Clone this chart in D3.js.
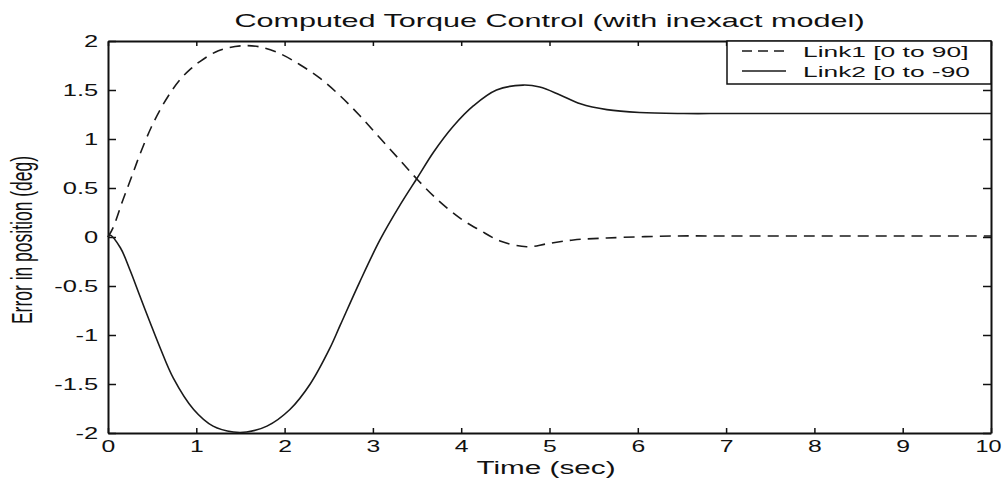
<!DOCTYPE html>
<html>
<head>
<meta charset="utf-8">
<script src="https://cdn.jsdelivr.net/npm/d3@7.9.0/dist/d3.min.js"></script>
<style>
  html, body { margin: 0; padding: 0; background: #fff; }
  svg { display: block; font-family: "Liberation Sans", Arial, sans-serif; }
</style>
</head>
<body>
<div id="chart"></div>
<script>
// values (time in sec, error in deg)
const link1Time = [0, 0.06, 0.17, 0.27, 0.36, 0.49, 0.61, 0.72, 0.82, 0.93, 1.04, 1.25, 1.5, 1.72, 1.95, 2.17, 2.4, 2.63, 2.85, 3.08, 3.31, 3.5, 3.72, 3.99, 4.21, 4.44, 4.74, 4.97, 5.27, 5.65, 6.4, 7, 8, 9, 10];
const link1Err  = [0, 0.1, 0.38, 0.62, 0.84, 1.12, 1.33, 1.49, 1.61, 1.71, 1.79, 1.9, 1.95, 1.94, 1.87, 1.76, 1.62, 1.44, 1.24, 1.01, 0.78, 0.59, 0.39, 0.19, 0.07, -0.04, -0.1, -0.07, -0.03, -0.01, 0.01, 0.01, 0.01, 0.01, 0.01];

const link2Time = [0, 0.02, 0.14, 0.25, 0.36, 0.48, 0.59, 0.74, 0.97, 1.19, 1.42, 1.57, 1.8, 2.06, 2.29, 2.51, 2.63, 2.85, 3.08, 3.31, 3.5, 3.69, 3.91, 4.14, 4.4, 4.7, 4.89, 5.12, 5.35, 5.65, 6.02, 6.52, 7, 8, 9, 10];
const link2Err  = [0, 0.02, -0.11, -0.34, -0.6, -0.88, -1.13, -1.44, -1.76, -1.93, -1.99, -1.99, -1.93, -1.76, -1.5, -1.14, -0.9, -0.46, -0.03, 0.33, 0.6, 0.87, 1.13, 1.34, 1.5, 1.55, 1.53, 1.45, 1.36, 1.3, 1.27, 1.26, 1.26, 1.26, 1.26, 1.26];

const xTicks = [0, 1, 2, 3, 4, 5, 6, 7, 8, 9, 10];
const yTicks = [-2, -1.5, -1, -0.5, 0, 0.5, 1, 1.5, 2];
const legendLabels = ['Link1 [0 to 90]', 'Link2 [0 to -90'];

const width = 1004;
const height = 480;
const margin = { top: 41, right: 13, bottom: 47, left: 108 };
const stretch = 1.5; // picture is stretched sideways

const svg = d3.select('#chart')
  .append('svg')
  .attr('width', width)
  .attr('height', height);

const x = d3.scaleLinear().domain([0, 10]).range([margin.left, width - margin.right]);
const y = d3.scaleLinear().domain([-2, 2]).range([height - margin.bottom, margin.top]);

// tick marks point inward, like the original
const fmt = d => String(d);

const xAxis = svg.append('g')
  .attr('transform', `translate(0,${y(-2)})`)
  .call(d3.axisBottom(x).tickValues(xTicks).tickFormat(fmt).tickSizeInner(-5).tickSizeOuter(0).tickPadding(7));
xAxis.selectAll('text')
  .attr('font-size', 16.5)
  .attr('fill', '#111')
  .attr('transform', d => d === 10 ? `translate(-3,0) scale(1.42,1)` : `scale(${stretch},1)`);

const yAxis = svg.append('g')
  .attr('transform', `translate(${x(0)},0)`)
  .call(d3.axisLeft(y).tickValues(yTicks).tickFormat(fmt).tickSizeInner(-8).tickSizeOuter(0).tickPadding(6.5));
yAxis.selectAll('text')
  .attr('font-size', 17)
  .attr('fill', '#111')
  .attr('transform', `scale(${stretch},1)`);

svg.append('g')
  .attr('transform', `translate(0,${y(2)})`)
  .call(d3.axisTop(x).tickValues(xTicks).tickFormat('').tickSizeInner(-5).tickSizeOuter(0));

svg.append('g')
  .attr('transform', `translate(${x(10)},0)`)
  .call(d3.axisRight(y).tickValues(yTicks).tickFormat('').tickSizeInner(-8).tickSizeOuter(0));

svg.selectAll('.domain').attr('stroke', '#111').attr('stroke-width', 2);
svg.selectAll('.tick line').attr('stroke', '#111').attr('stroke-width', 1.5);

// curves
const line = d3.line()
  .x(d => x(d[0]))
  .y(d => y(d[1]))
  .curve(d3.curveCatmullRom.alpha(0.5));

const link1 = d3.zip(link1Time, link1Err);
const link2 = d3.zip(link2Time, link2Err);

svg.append('path')
  .datum(link1)
  .attr('d', line)
  .attr('fill', 'none')
  .attr('stroke', '#1a1a1a')
  .attr('stroke-width', 1.6)
  .attr('stroke-dasharray', '11,7');

svg.append('path')
  .datum(link2)
  .attr('d', line)
  .attr('fill', 'none')
  .attr('stroke', '#1a1a1a')
  .attr('stroke-width', 1.6);

// legend
const legend = svg.append('g');
legend.append('rect')
  .attr('x', 727)
  .attr('y', y(2))
  .attr('width', x(10) - 727)
  .attr('height', 43)
  .attr('fill', '#fff')
  .attr('stroke', '#111')
  .attr('stroke-width', 1.5);

const rows = [
  { label: legendLabels[0], dash: '10,6', ty: 51 },
  { label: legendLabels[1], dash: null, ty: 71 }
];
rows.forEach(r => {
  legend.append('line')
    .attr('x1', 742).attr('x2', 786)
    .attr('y1', r.ty).attr('y2', r.ty)
    .attr('stroke', '#1a1a1a')
    .attr('stroke-width', 1.6)
    .attr('stroke-dasharray', r.dash);
  legend.append('text')
    .attr('transform', `translate(803,${r.ty + 5.5}) scale(1.7,1)`)
    .attr('font-size', 15.5)
    .attr('fill', '#111')
    .text(r.label);
});

// title and axis labels
svg.append('text')
  .attr('transform', `translate(${(x(0) + x(10)) / 2},27) scale(1.7,1)`)
  .attr('text-anchor', 'middle')
  .attr('font-size', 18)
  .attr('fill', '#111')
  .text('Computed Torque Control (with inexact model)');

svg.append('text')
  .attr('transform', `translate(546,474) scale(1.65,1)`)
  .attr('text-anchor', 'middle')
  .attr('font-size', 18)
  .attr('fill', '#111')
  .text('Time (sec)');

svg.append('text')
  .attr('transform', `translate(32,240) rotate(-90) scale(1,1.7)`)
  .attr('text-anchor', 'middle')
  .attr('font-size', 17.5)
  .attr('fill', '#111')
  .text('Error in position (deg)');
</script>
</body>
</html>
